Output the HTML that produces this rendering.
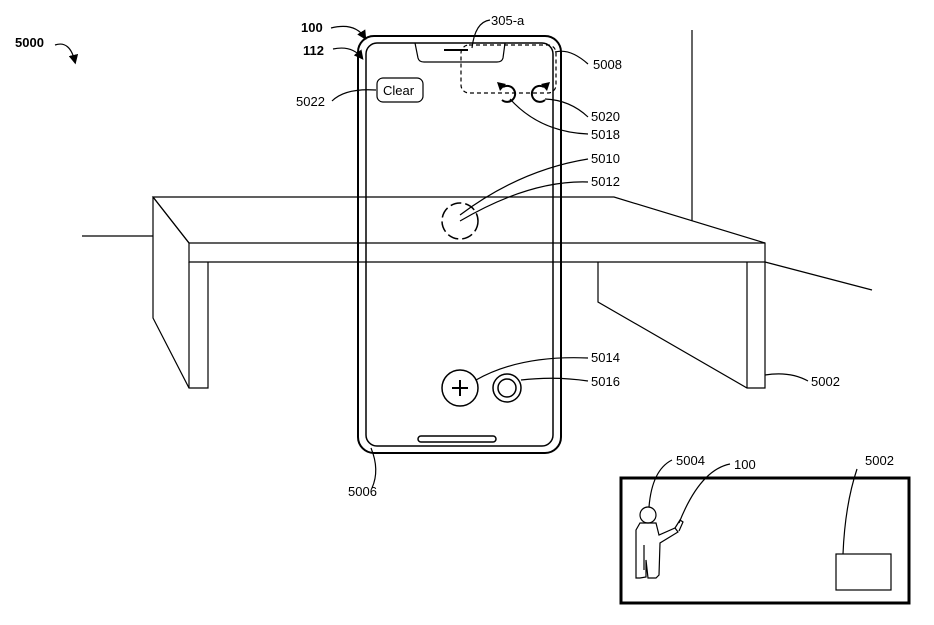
<!DOCTYPE html>
<html><head><meta charset="utf-8"><style>
html,body{margin:0;padding:0;background:#fff}
svg{display:block}
text{font-family:"Liberation Sans",Arial,sans-serif;font-size:13px;fill:#000}
</style></head><body>
<svg width="934" height="625" viewBox="0 0 934 625" xmlns="http://www.w3.org/2000/svg">
<defs><marker id="ah" markerWidth="8" markerHeight="8" refX="6" refY="4" orient="auto"><path d="M0,0 L8,4 L0,8 z" fill="#000"/></marker></defs>
<g fill="none" stroke="#000" stroke-width="1.2">
<line x1="692" y1="30" x2="692" y2="221"/>
<line x1="82" y1="236" x2="153" y2="236"/>
<line x1="765" y1="262" x2="872" y2="290"/>
<path d="M153,197 L614,197 L765,243 L765,262 L189,262 L189,243 Z"/>
<line x1="189" y1="243" x2="765" y2="243"/>
<line x1="153" y1="197" x2="189" y2="243"/>
<path d="M153,197 L153,318 L189,388 L208,388 L208,262"/>
<line x1="189" y1="262" x2="189" y2="388"/>
<path d="M598,262 L598,302 L747,388 L765,388 L765,262"/>
<line x1="747" y1="262" x2="747" y2="388"/>
<rect x="358" y="36" width="203" height="417" rx="16" stroke-width="2"/>
<rect x="366" y="43" width="187" height="403" rx="11" stroke-width="1.5"/>
<path d="M415,43 L418,58 Q419,62 424,62 L497,62 Q502,62 503,58 L505,43"/>
<line x1="444" y1="50" x2="468" y2="50" stroke-width="2"/>
<rect x="418" y="436" width="78" height="6" rx="3" stroke-width="1.5"/>
<rect x="461" y="45" width="95" height="48" rx="8" stroke-dasharray="4,3"/>
<rect x="377" y="78" width="46" height="24" rx="6"/>
<path d="M503,87 A8,8 0 1 1 502,100" stroke-width="2"/>
<path d="M544,87 A8,8 0 1 0 545,100" stroke-width="2"/>
<circle cx="460" cy="221" r="18" stroke-width="1.5" stroke-dasharray="11,4"/>
<circle cx="460" cy="388" r="18" stroke-width="1.5"/>
<line x1="460" y1="380" x2="460" y2="396" stroke-width="2"/>
<line x1="452" y1="388" x2="468" y2="388" stroke-width="2"/>
<circle cx="507" cy="388" r="14" stroke-width="1.5"/>
<circle cx="507" cy="388" r="9" stroke-width="1.5"/>
<path d="M55,45 Q70,40 75,62" marker-end="url(#ah)"/>
<path d="M331,28 Q355,22 365,38" marker-end="url(#ah)"/>
<path d="M333,49 Q352,45 362,58" marker-end="url(#ah)"/>
<path d="M490,20 Q475,22 472,48"/>
<path d="M588,64 Q570,48 555,52"/>
<path d="M332,101 Q345,88 376,90"/>
<path d="M588,117 Q570,100 545,99"/>
<path d="M588,134 Q540,132 510,99"/>
<path d="M588,159 Q520,170 460,215"/>
<path d="M588,182 Q530,180 460,221"/>
<path d="M588,358 Q520,355 476,380"/>
<path d="M588,381 Q555,376 521,380"/>
<path d="M808,381 Q790,371 765,375"/>
<path d="M372,488 Q380,470 371,448"/>
<rect x="621" y="478" width="288" height="125" stroke-width="3"/>
<rect x="836" y="554" width="55" height="36"/>
<path d="M857,469 Q845,505 843,554"/>
<path d="M672,460 Q652,470 649,507"/>
<path d="M730,464 Q700,470 679,523"/>
<circle cx="648" cy="515" r="8"/>
<path d="M640,523 L656,523 L659,535 L675,528 L678,532 L660,543 L659,575 L656,578 L648,578 L646,560 L646,577 L640,578 L636,578 L636,550 L636,530 Z"/>
<line x1="644" y1="545" x2="644" y2="570"/>
<path d="M675,528 L680,520 L683,522 L679,531"/>
</g>
<path d="M497,82 L506,84 L500,91 Z" fill="#000"/>
<path d="M550,82 L541,84 L547,91 Z" fill="#000"/>
<g>
<text x="15" y="47" font-weight="bold">5000</text>
<text x="301" y="32" font-weight="bold">100</text>
<text x="303" y="55" font-weight="bold">112</text>
<text x="491" y="25">305-a</text>
<text x="593" y="69">5008</text>
<text x="383" y="95">Clear</text>
<text x="296" y="106">5022</text>
<text x="591" y="121">5020</text>
<text x="591" y="139">5018</text>
<text x="591" y="163">5010</text>
<text x="591" y="186">5012</text>
<text x="591" y="362">5014</text>
<text x="591" y="386">5016</text>
<text x="811" y="386">5002</text>
<text x="348" y="496">5006</text>
<text x="676" y="465">5004</text>
<text x="734" y="469">100</text>
<text x="865" y="465">5002</text>
</g>
</svg>
</body></html>
